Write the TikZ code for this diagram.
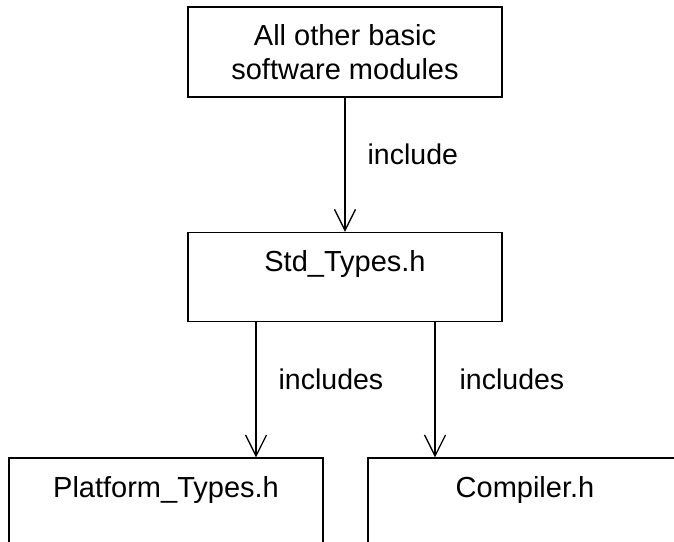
\documentclass[tikz,border=0pt]{standalone}
\usepackage{fontspec}
\setmainfont{Liberation Sans}
\usetikzlibrary{positioning, arrows.meta}

\begin{document}
\begin{tikzpicture}[
  x=1pt, y=-1pt,
  module/.style={rectangle, draw, line width=1.6pt, minimum width=314pt, inner sep=0pt, font=\fontsize{29}{34}\selectfont},
  header/.style={module, text height=39pt, text depth=50pt},
  link/.style={-{Straight Barb[length=21pt, width=21pt, line width=1.3pt]}, line width=1.3pt},
  lbl/.style={anchor=base west, inner sep=0pt, font=\fontsize{28.5}{34}\selectfont}
]
\useasboundingbox (0,0) rectangle (674,541);

% Nodes
\node[module, minimum height=90pt, align=center] (others) at (345,52) {All other basic\\software modules};
\node[header, below=134pt of others] (std) {Std\_Types.h};
\node[header, below=135pt of std, xshift=-179pt] (platform) {Platform\_Types.h};
\node[header, below=135pt of std, xshift=180pt] (compiler) {Compiler.h};

% Connections
\draw[link] (others) -- node[lbl, xshift=22pt] {include} (std);
\draw[link] ([xshift=-89pt]std.south) -- node[lbl, xshift=22pt] {includes} ([xshift=-89pt]std.south |- platform.north);
\draw[link] ([xshift=90pt]std.south) -- node[lbl, xshift=24pt] {includes} ([xshift=90pt]std.south |- compiler.north);

\end{tikzpicture}
\end{document}
